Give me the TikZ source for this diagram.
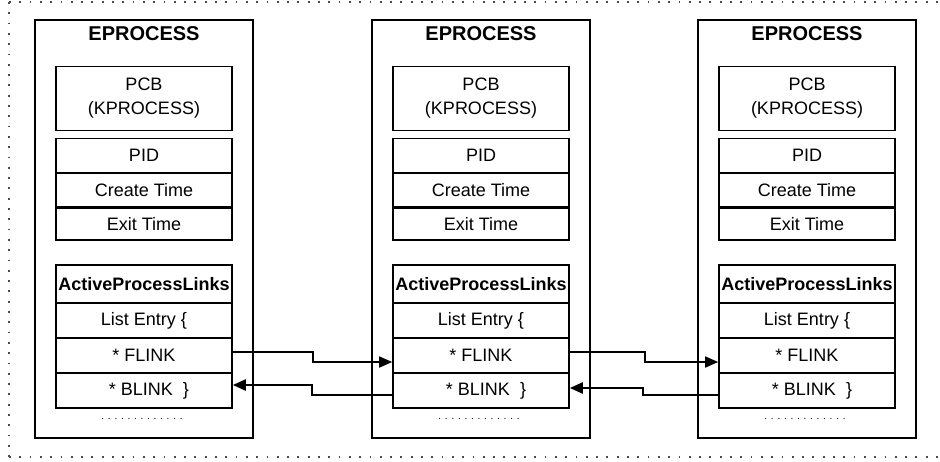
\documentclass[tikz,border=0pt]{standalone}
\usepackage{fontspec}
\setmainfont{Liberation Sans}
\usetikzlibrary{arrows.meta}

% a row of widely spaced dots, as the "more fields" mark
\newcommand{\morefields}{.\foreach \k in {2,...,13}{\hspace{3.75pt}.}}

\tikzset{
  outerbox/.style={draw=black, line width=2.4pt, minimum width=218pt, minimum height=418pt, inner sep=0pt},
  cell/.style={draw=black, line width=1.6pt, minimum width=176pt, inner sep=0pt,
               font=\fontsize{18}{24}\selectfont, align=center},
  titletext/.style={font=\bfseries\fontsize{20}{24}\selectfont, inner sep=0pt},
  linktip/.style={-{Triangle[length=13pt,width=11pt]}},
  flinkline/.style={linktip, line width=1.7pt},
  blinkline/.style={linktip, line width=2.4pt},
  frame/.style={line width=1.8pt, black!70, dash pattern=on 1.8pt off 8.5pt},
}

\begin{document}
\begin{tikzpicture}[x=1pt, y=-1pt]
  \useasboundingbox (0,0) rectangle (940,461);

  % dotted surrounding frame (open towards the right)
  \coordinate (fTL) at (9,2);
  \coordinate (fTR) at (946,2);
  \coordinate (fBL) at (9,457);
  \coordinate (fBR) at (946,457);
  \draw[frame] (fTL) -- (fTR);
  \draw[frame] (fTL) -- (fBL);
  \draw[frame] (fBL) -- (fBR);

  % three EPROCESS structures
  \foreach \i/\cx in {1/144, 2/481, 3/807} {
    \node[outerbox] (ep\i) at (\cx,229) {};
    \node[titletext] (title\i) at (\cx,34) {EPROCESS};
    \node[cell, minimum height=64pt] (pcb\i) at (\cx,98.5) {PCB\\(KPROCESS)};
    \node[cell, minimum height=34.5pt] (pid\i) at (\cx,155.75) {PID};
    \node[cell, minimum height=34pt] (ctime\i) at (\cx,190) {Create Time};
    \node[cell, minimum height=31.5pt] (etime\i) at (\cx,224) {Exit Time};
    \node[cell, minimum height=38pt, font=\bfseries\fontsize{18}{24}\selectfont] (apl\i) at (\cx,284) {ActiveProcessLinks};
    \node[cell, minimum height=35pt] (entry\i) at (\cx,320.5) {List Entry \{};
    \node[cell, minimum height=35pt] (flink\i) at (\cx,355.5) {* FLINK};
    \node[cell, minimum height=35pt] (blink\i) at (\cx,390.5) {};
    \node[font=\fontsize{18}{24}\selectfont, inner sep=0pt] (blinktext\i) at (\cx+5,391) {* BLINK\ \ \}};
    \node[font=\fontsize{10}{12}\selectfont, inner sep=0pt] (more\i) at (\cx-2,419) {\morefields};
  }

  % forward links
  \draw[flinkline] ([yshift=3.5pt]flink1.east) -- ++(80,0) |- ([yshift=-6.5pt]flink2.west);
  \draw[flinkline] ([yshift=3.5pt]flink2.east) -- ++(75,0) |- ([yshift=-6.5pt]flink3.west);

  % backward links
  \draw[blinkline] ([yshift=-4.5pt]blink2.west) -- ++(-80,0) |- ([yshift=5.5pt]blink1.east);
  \draw[blinkline] ([yshift=-4.5pt]blink3.west) -- ++(-75,0) |- ([yshift=2.5pt]blink2.east);
\end{tikzpicture}
\end{document}
